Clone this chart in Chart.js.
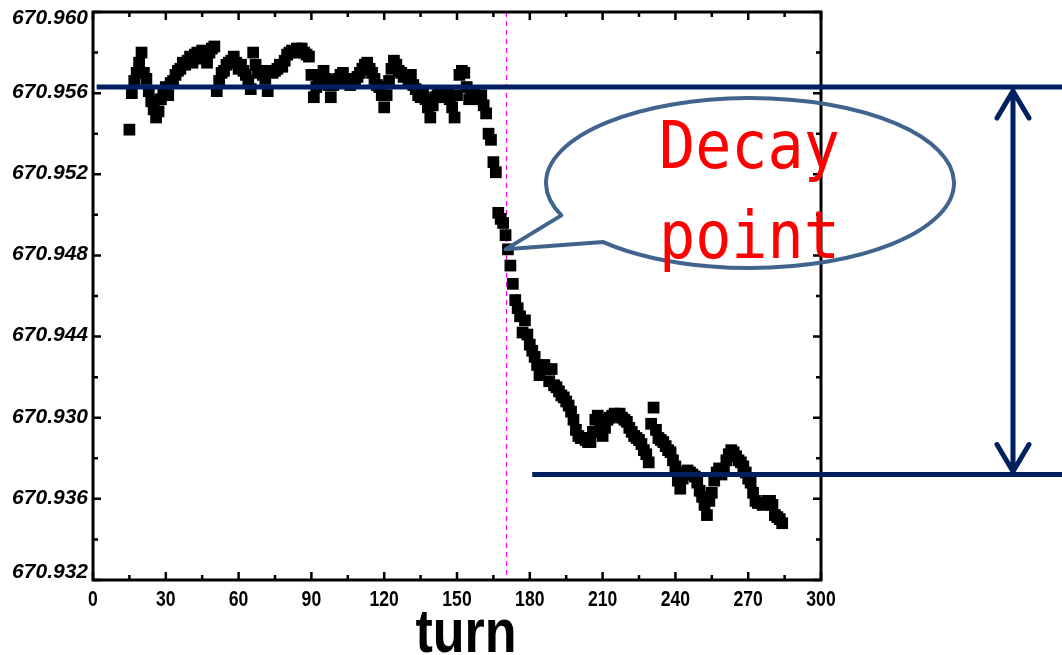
<!DOCTYPE html>
<html>
<head>
<meta charset="utf-8">
<script src="https://cdn.jsdelivr.net/npm/chart.js@4.4.0/dist/chart.umd.min.js"></script>
<style>
  html, body { margin: 0; padding: 0; background: #fff; }
  #wrap { width: 1062px; height: 655px; }
</style>
</head>
<body>
<div id="wrap"><canvas id="chart" width="1062" height="655"></canvas></div>
<script>
// measured wavelength per turn, first sample at turn 15
const firstTurn = 15;
const wavelength = [
  670.9542, 670.9560, 670.9566, 670.9570, 670.9575, 670.9580, 670.9570, 670.9567, 670.9561, 670.9556,
  670.9552, 670.9548, 670.9551, 670.9557, 670.9561, 670.9563, 670.9559, 670.9565, 670.9566, 670.9569,
  670.9571, 670.9572, 670.9575, 670.9574, 670.9576, 670.9578, 670.9575, 670.9579, 670.9580, 670.9577,
  670.9581, 670.9579, 670.9575, 670.9580, 670.9582, 670.9583, 670.9561, 670.9566, 670.9570, 670.9571,
  670.9574, 670.9575, 670.9576, 670.9578, 670.9575, 670.9572, 670.9574, 670.9571, 670.9569, 670.9566,
  670.9562, 670.9580, 670.9574, 670.9570, 670.9571, 670.9569, 670.9567, 670.9561, 670.9571, 670.9570,
  670.9571, 670.9572, 670.9574, 670.9573, 670.9576, 670.9579, 670.9580, 670.9581, 670.9580, 670.9582,
  670.9581, 670.9582, 670.9580, 670.9579, 670.9578, 670.9569, 670.9558, 670.9563, 670.9566, 670.9569,
  670.9571, 670.9567, 670.9564, 670.9558, 670.9564, 670.9566, 670.9567, 670.9569, 670.9570, 670.9567,
  670.9566, 670.9564, 670.9566, 670.9567, 670.9568, 670.9570, 670.9572, 670.9574, 670.9575, 670.9572,
  670.9570, 670.9567, 670.9564, 670.9563, 670.9559, 670.9553, 670.9559, 670.9566, 670.9572, 670.9576,
  670.9574, 670.9571, 670.9570, 670.9568, 670.9569, 670.9566, 670.9569, 670.9564, 670.9562, 670.9559,
  670.9558, 670.9561, 670.9557, 670.9553, 670.9548, 670.9554, 670.9558, 670.9559, 670.9561, 670.9558,
  670.9559, 670.9561, 670.9557, 670.9553, 670.9548, 670.9559, 670.9569, 670.9571, 670.9570, 670.9563,
  670.9557, 670.9559, 670.9561, 670.9558, 670.9557, 670.9559, 670.9554, 670.9550, 670.9540, 670.9537,
  670.9526, 670.9521, 670.9501, 670.9498, 670.9496, 670.9490, 670.9483, 670.9475, 670.9466, 670.9458,
  670.9454, 670.9450, 670.9442, 670.9448, 670.9441, 670.9436, 670.9433, 670.9430, 670.9426, 670.9421,
  670.9424, 670.9426, 670.9424, 670.9418, 670.9424, 670.9416, 670.9415, 670.9413, 670.9411, 670.9410,
  670.9408, 670.9406, 670.9403, 670.9399, 670.9394, 670.9391, 670.9390, 670.9390, 670.9389, 670.9388,
  670.9388, 670.9393, 670.9399, 670.9401, 670.9396, 670.9391, 670.9395, 670.9399, 670.9400, 670.9401,
  670.9402, 670.9401, 670.9402, 670.9400, 670.9399, 670.9398, 670.9395, 670.9393, 670.9391, 670.9390,
  670.9389, 670.9387, 670.9384, 670.9382, 670.9378, 670.9397, 670.9405, 670.9394, 670.9390, 670.9389,
  670.9388, 670.9386, 670.9384, 670.9383, 670.9379, 670.9376, 670.9369, 670.9365, 670.9370, 670.9373,
  670.9374, 670.9373, 670.9372, 670.9371, 670.9368, 670.9364, 670.9361, 670.9357, 670.9352, 670.9359,
  670.9363, 670.9369, 670.9373, 670.9375, 670.9372, 670.9374, 670.9379, 670.9382, 670.9384, 670.9383,
  670.9381, 670.9379, 670.9378, 670.9376, 670.9373, 670.9370, 670.9368, 670.9363, 670.9359, 670.9358,
  670.9358, 670.9357, 670.9358, 670.9359, 670.9359, 670.9357, 670.9352, 670.9351, 670.9350, 670.9348
];

const xTickValues = [0, 30, 60, 90, 120, 150, 180, 210, 240, 270, 300];
const yTickValues = [670.932, 670.936, 670.940, 670.944, 670.948, 670.952, 670.956, 670.960];
// labels exactly as printed on the figure
const yTickLabels = ['670.932', '670.936', '670.930', '670.944', '670.948', '670.952', '670.956', '670.960'];
const xTitle = 'turn';

const decayTurn = 170;
const decayValue = 670.9483;
const upperLevel = 670.9563;
const lowerLevel = 670.9372;
const lowerLineStartTurn = 181;
const upperLineStartTurn = 1.5;
const bubbleLines = ['Decay', 'point'];

const navy = '#002060';

const points = wavelength.map((v, i) => ({ x: firstTurn + i, y: v }));

// draws text squeezed horizontally, like a narrow font
function narrowText(ctx, text, x, y, scaleX) {
  ctx.save();
  ctx.translate(x, y);
  ctx.scale(scaleX, 1);
  ctx.fillText(text, 0, 0);
  ctx.restore();
}

// inward ticks, full frame, axis labels, decay marker line
const framePlugin = {
  id: 'frame',
  beforeDatasetsDraw(chart) {
    const { ctx, chartArea: a, scales: { x } } = chart;
    const px = Math.round(x.getPixelForValue(decayTurn)) + 0.5;
    ctx.save();
    ctx.strokeStyle = '#ff00ff';
    ctx.lineWidth = 1.2;
    ctx.setLineDash([5, 4]);
    ctx.beginPath();
    ctx.moveTo(px, a.top);
    ctx.lineTo(px, a.bottom);
    ctx.stroke();
    ctx.restore();
  },
  afterDatasetsDraw(chart) {
    const { ctx, chartArea: a, scales: { x, y } } = chart;
    ctx.save();
    ctx.strokeStyle = '#000';
    ctx.lineWidth = 2.5;
    ctx.beginPath();
    for (let i = 0; i < xTickValues.length; i++) {
      const p = x.getPixelForValue(xTickValues[i]);
      ctx.moveTo(p, a.bottom); ctx.lineTo(p, a.bottom - 8);
      ctx.moveTo(p, a.top); ctx.lineTo(p, a.top + 8);
      if (i < xTickValues.length - 1) {
        const m = (p + x.getPixelForValue(xTickValues[i + 1])) / 2;
        ctx.moveTo(m, a.bottom); ctx.lineTo(m, a.bottom - 5);
        ctx.moveTo(m, a.top); ctx.lineTo(m, a.top + 5);
      }
    }
    for (let i = 0; i < yTickValues.length; i++) {
      const p = y.getPixelForValue(yTickValues[i]);
      ctx.moveTo(a.left, p); ctx.lineTo(a.left + 8, p);
      ctx.moveTo(a.right, p); ctx.lineTo(a.right - 8, p);
      if (i < yTickValues.length - 1) {
        const m = (p + y.getPixelForValue(yTickValues[i + 1])) / 2;
        ctx.moveTo(a.left, m); ctx.lineTo(a.left + 5, m);
        ctx.moveTo(a.right, m); ctx.lineTo(a.right - 5, m);
      }
    }
    ctx.stroke();
    ctx.lineWidth = 3;
    ctx.strokeRect(a.left, a.top, a.right - a.left, a.bottom - a.top);

    ctx.fillStyle = '#000';
    // y tick labels, end ones pulled inside the frame
    ctx.textAlign = 'right';
    ctx.textBaseline = 'middle';
    ctx.font = 'italic bold 21px "Liberation Sans", Arial, sans-serif';
    yTickValues.forEach((v, i) => {
      const p = Math.min(Math.max(y.getPixelForValue(v) - 1, a.top + 6), a.bottom - 8);
      ctx.fillText(yTickLabels[i], a.left - 5, p);
    });

    // x tick labels and title in a narrow bold face
    ctx.textAlign = 'center';
    ctx.textBaseline = 'alphabetic';
    ctx.font = 'bold 22px "Liberation Sans", Arial, sans-serif';
    xTickValues.forEach(v => narrowText(ctx, String(v), x.getPixelForValue(v), a.bottom + 26, 0.8));
    ctx.font = 'bold 62px "Liberation Sans", Arial, sans-serif';
    narrowText(ctx, xTitle, (a.left + a.right) / 2 + 9, 652, 0.84);
    ctx.restore();
  }
};

// level lines, double arrow and the speech bubble
const annotatePlugin = {
  id: 'annotate',
  afterDraw(chart) {
    const { ctx, width, scales: { x, y } } = chart;
    const yUp = y.getPixelForValue(upperLevel);
    const yLow = y.getPixelForValue(lowerLevel);
    ctx.save();
    ctx.strokeStyle = navy;
    ctx.lineWidth = 5;
    ctx.beginPath();
    ctx.moveTo(x.getPixelForValue(upperLineStartTurn), yUp);
    ctx.lineTo(width, yUp);
    ctx.moveTo(x.getPixelForValue(lowerLineStartTurn), yLow);
    ctx.lineTo(width, yLow);
    ctx.stroke();

    // double arrow
    const ax = 1013;
    const t1 = yUp + 4, t2 = yLow - 3;
    ctx.lineCap = 'round';
    ctx.lineJoin = 'round';
    ctx.beginPath();
    ctx.moveTo(ax, t1); ctx.lineTo(ax, t2);
    ctx.moveTo(ax - 16, t1 + 27); ctx.lineTo(ax, t1); ctx.lineTo(ax + 16, t1 + 27);
    ctx.moveTo(ax - 16, t2 - 27); ctx.lineTo(ax, t2); ctx.lineTo(ax + 16, t2 - 27);
    ctx.stroke();

    // bubble
    const cx = 750, cy = 183, rx = 204, ry = 85;
    const a1 = 157.6 * Math.PI / 180, a2 = 136 * Math.PI / 180;
    const tipX = x.getPixelForValue(decayTurn), tipY = y.getPixelForValue(decayValue);
    ctx.strokeStyle = '#41648f';
    ctx.lineWidth = 4;
    ctx.lineCap = 'butt';
    ctx.beginPath();
    ctx.ellipse(cx, cy, rx, ry, 0, a1, a2 + Math.PI * 2);
    ctx.lineTo(tipX, tipY);
    ctx.closePath();
    ctx.stroke();

    ctx.fillStyle = '#ff0000';
    ctx.font = '66px "DejaVu Sans Mono", monospace';
    ctx.textBaseline = 'alphabetic';
    ctx.textAlign = 'left';
    narrowText(ctx, bubbleLines[0], 659, 168, 0.91);
    narrowText(ctx, bubbleLines[1], 659, 258, 0.91);
    ctx.restore();
  }
};

new Chart(document.getElementById('chart').getContext('2d'), {
  type: 'scatter',
  data: {
    datasets: [{
      data: points,
      pointStyle: 'rect',
      pointRadius: 8.3,
      pointHoverRadius: 8.3,
      backgroundColor: '#000',
      borderWidth: 0
    }]
  },
  options: {
    responsive: false,
    animation: false,
    layout: { padding: { top: 12, right: 241, left: 0, bottom: 0 } },
    plugins: { legend: { display: false }, tooltip: { enabled: false } },
    scales: {
      x: {
        type: 'linear',
        min: 0,
        max: 300,
        grid: { display: false, drawTicks: false },
        border: { display: false },
        ticks: { display: false, stepSize: 30 },
        afterFit(scale) { scale.height = 75; scale.paddingLeft = 0; scale.paddingRight = 0; }
      },
      y: {
        type: 'linear',
        min: 670.932,
        max: 670.960,
        grid: { display: false, drawTicks: false },
        border: { display: false },
        afterBuildTicks(scale) {
          scale.ticks = yTickValues.map(v => ({ value: v }));
        },
        ticks: { display: false },
        afterFit(scale) { scale.width = 93; scale.paddingTop = 0; scale.paddingBottom = 0; }
      }
    }
  },
  plugins: [framePlugin, annotatePlugin]
});
</script>
</body>
</html>
